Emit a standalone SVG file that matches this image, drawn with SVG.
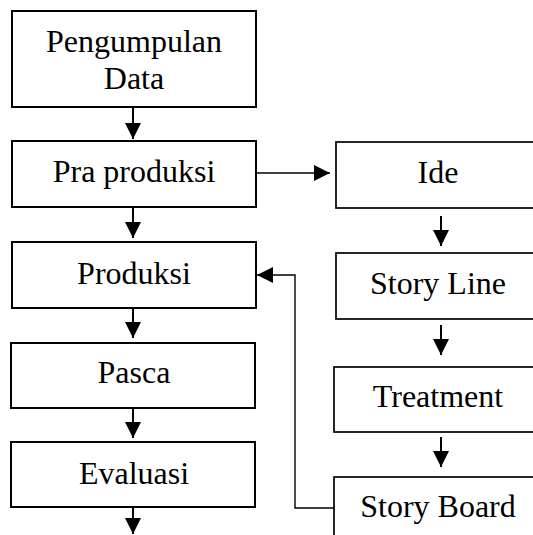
<svg xmlns="http://www.w3.org/2000/svg" width="533" height="535" viewBox="0 0 533 535">
<style>
.box{fill:#fff;stroke:#000;stroke-width:2}
.box2{fill:#fff;stroke:#000;stroke-width:1.7}
.t{font-family:"Liberation Serif","Times New Roman",serif;font-size:32px;fill:#000;text-anchor:middle}
.c{fill:none;stroke:#000;stroke-width:2}
.c1{fill:none;stroke:#000;stroke-width:1.4}
</style>
<defs>
<marker id="ah" viewBox="0 0 16 16" refX="16" refY="8" markerWidth="16" markerHeight="16" markerUnits="userSpaceOnUse" orient="auto">
<path d="M0,0 L16,8 L0,16 z" fill="#000"/>
</marker>
</defs>
<rect width="533" height="535" fill="#fff"/>
<g id="connectors">
<line class="c" x1="133" y1="107" x2="133" y2="139" marker-end="url(#ah)"/>
<line class="c" x1="133" y1="207" x2="133" y2="238" marker-end="url(#ah)"/>
<line class="c" x1="133" y1="308" x2="133" y2="338" marker-end="url(#ah)"/>
<line class="c" x1="133" y1="408" x2="133" y2="438" marker-end="url(#ah)"/>
<line class="c" x1="133" y1="507" x2="133" y2="534" marker-end="url(#ah)"/>
<line class="c1" x1="256" y1="173" x2="330" y2="173" marker-end="url(#ah)"/>
<line class="c" x1="441" y1="216" x2="441" y2="246" marker-end="url(#ah)"/>
<line class="c" x1="441" y1="325" x2="441" y2="355" marker-end="url(#ah)"/>
<line class="c" x1="441" y1="437" x2="441" y2="467" marker-end="url(#ah)"/>
<polyline class="c1" points="334,508 295,508 295,275 257,275" marker-end="url(#ah)"/>
</g>
<g id="pengumpulan"><rect class="box" x="12" y="11" width="244" height="96"/><text class="t" x="134" y="52">Pengumpulan</text><text class="t" x="134" y="89">Data</text></g>
<g id="praproduksi"><rect class="box" x="12" y="141" width="244" height="66"/><text class="t" x="134" y="182">Pra produksi</text></g>
<g id="produksi"><rect class="box" x="12" y="242" width="244" height="66"/><text class="t" x="134" y="284">Produksi</text></g>
<g id="pasca"><rect class="box" x="11" y="343" width="244" height="65"/><text class="t" x="134" y="383">Pasca</text></g>
<g id="evaluasi"><rect class="box" x="11" y="442" width="244" height="65"/><text class="t" x="134" y="484">Evaluasi</text></g>
<g id="ide"><rect class="box2" x="336" y="142" width="220" height="66"/><text class="t" x="438" y="183">Ide</text></g>
<g id="storyline"><rect class="box2" x="336" y="253" width="220" height="66"/><text class="t" x="438" y="294">Story Line</text></g>
<g id="treatment"><rect class="box2" x="334" y="367" width="220" height="65"/><text class="t" x="438" y="407">Treatment</text></g>
<g id="storyboard"><rect class="box2" x="334" y="477" width="220" height="70"/><text class="t" x="438" y="517">Story Board</text></g>
</svg>
